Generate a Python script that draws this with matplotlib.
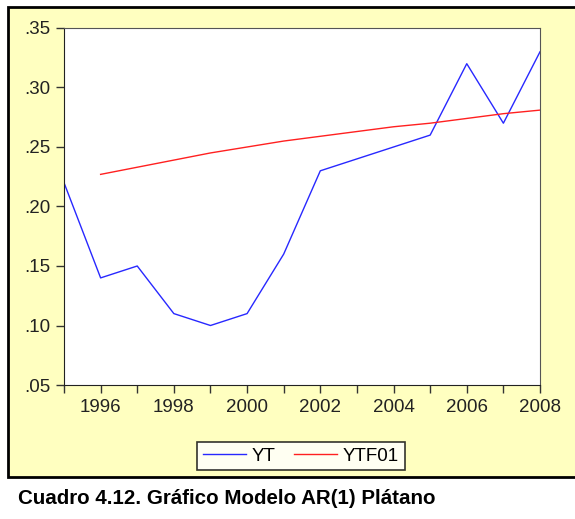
import matplotlib.pyplot as plt
from matplotlib.patches import Rectangle
from matplotlib.ticker import FuncFormatter

plt.rcParams['font.family'] = ['Liberation Sans', 'DejaVu Sans']

years = list(range(1995, 2009))
yt = [0.22, 0.14, 0.15, 0.11, 0.10, 0.11, 0.16, 0.23, 0.24, 0.25, 0.26, 0.32, 0.27, 0.33]
ytf_years = list(range(1996, 2009))
ytf01 = [0.227, 0.233, 0.239, 0.245, 0.250, 0.255, 0.259, 0.263, 0.267, 0.270, 0.274, 0.278, 0.281]
caption = "Cuadro 4.12. Gráfico Modelo AR(1) Plátano"

W, H = 575, 519
fig = plt.figure(figsize=(W / 100, H / 100), dpi=100, facecolor='white')

# yellow panel with black frame
panel = Rectangle((8 / W, 1 - 477 / H), 1.0, (477 - 7) / H,
                  transform=fig.transFigure, facecolor='#FFFFC0',
                  edgecolor='black', linewidth=2, zorder=-5)
fig.add_artist(panel)

ax = fig.add_axes([64 / W, 1 - 385 / H, (540 - 64) / W, (385 - 28) / H])
ax.set_zorder(2)
ax.set_facecolor('white')
ax.plot(years, yt, color='#2828FF', linewidth=1.0, label='YT')
ax.plot(ytf_years, ytf01, color='#FF2020', linewidth=1.0, label='YTF01')

ax.set_xlim(1995, 2008)
ax.set_ylim(0.05, 0.35)
ax.set_xticks(years)
ax.set_xticklabels([str(y) if y % 2 == 0 else '' for y in years])
ax.set_yticks([0.05, 0.10, 0.15, 0.20, 0.25, 0.30, 0.35])
ax.yaxis.set_major_formatter(FuncFormatter(lambda v, p: ('%.2f' % v)[1:]))
ax.tick_params(direction='out', length=6, width=1, labelsize=13.5, color='#333333',
               labelcolor='#222222', pad=4)

for s in ['left', 'bottom']:
    ax.spines[s].set_color('#222222')
for s in ['top', 'right']:
    ax.spines[s].set_color('#555555')

leg = fig.legend(loc='center', bbox_to_anchor=(301 / W, 1 - 456 / H), ncol=2,
                 fontsize=13.5, frameon=True, fancybox=False, edgecolor='black',
                 handlelength=2.3, columnspacing=1.0, borderpad=0.3, handletextpad=0.3)
leg.get_frame().set_linewidth(1.2)
leg.set_zorder(3)

fig.text(18 / W, 1 - 498 / H, caption, fontsize=14.8, fontweight='bold',
         ha='left', va='center')

fig.savefig('out.png', dpi=100, facecolor='white')
